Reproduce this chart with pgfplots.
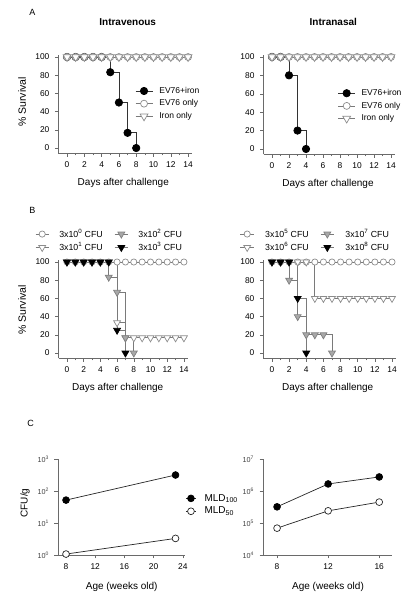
\documentclass[border=0pt]{standalone}
\usepackage{fontspec}
\setmainfont{Liberation Sans}
\usepackage{pgfplots}
\pgfplotsset{compat=1.18}

\definecolor{lg}{HTML}{8C8C8C}
\definecolor{lnc}{HTML}{7A7A7A}
\definecolor{gf}{HTML}{A8A8A8}
\definecolor{axc}{HTML}{6A6A6A}

\pgfplotsset{
  base/.style={scale only axis, axis lines*=left,
    axis line style={-, axc, line width=0.6pt},
    tick align=outside, major tick length=3.5pt, minor tick length=2pt,
    tick style={axc, line width=0.5pt},
    /pgf/number format/assume math mode=true,
    ticklabel style={font=\fontsize{8.4}{9}\selectfont},
    yticklabel style={xshift=-2pt}, xticklabel style={yshift=-1.5pt},
    clip=false, legend cell align=left, legend image post style={sharp plot}},
  surv/.style={base, xmin=-1, xmax=14.5, ymin=-6, ymax=102,
    xtick={0,2,...,14}, ytick={0,20,...,100}, minor x tick num=1},
  alegend/.style={legend style={draw=none, fill=none, inner sep=0pt, outer sep=0pt,
      row sep=2pt, font=\fontsize{8.5}{10}\selectfont, nodes={inner sep=1.5pt}},
    legend image code/.code={\draw[sharp plot] (0pt,0pt) -- (17pt,0pt);
      \draw[sharp plot] plot coordinates {(8.5pt,0pt)};}},
  blegend/.style={legend columns=2, transpose legend,
    legend style={draw=none, fill=none, inner sep=0pt, outer sep=0pt,
      row sep=0.8pt, font=\fontsize{8.8}{10}\selectfont, nodes={inner sep=1.5pt},
      /tikz/every even column/.append style={column sep=10pt}},
    legend image code/.code={\draw[sharp plot] (0pt,0pt) -- (13.4pt,0pt);
      \draw[sharp plot] plot coordinates {(6.7pt,0pt)};}},
  pblack/.style={const plot, line width=0.7pt, color=black!80, mark=*, mark size=3.7pt, mark options={solid, fill=black, draw=black}},
  pcirc/.style={const plot, line width=0.7pt, color=lnc, mark=*, mark size=3.5pt, mark options={solid, fill=white, draw=lg}},
  ptri/.style={const plot, line width=0.7pt, color=lnc, mark=triangle*, mark size=4.5pt, mark options={solid, fill=white, draw=lg, rotate=180}},
  bcirc/.style={const plot, line width=0.7pt, color=lnc, mark=*, mark size=3.1pt, mark options={solid, fill=white, draw=lg}},
  btri/.style={const plot, line width=0.7pt, color=lnc, mark=triangle*, mark size=4pt, mark options={solid, fill=white, draw=lg, rotate=180}},
  bgtri/.style={const plot, line width=0.7pt, color=lnc, mark=triangle*, mark size=4pt, mark options={solid, fill=gf, draw=gray, rotate=180}},
  bbtri/.style={const plot, line width=0.7pt, color=lnc, mark=triangle*, mark size=4pt, mark options={solid, fill=black, draw=black, rotate=180}},
  cfill/.style={color=black!85, line width=0.7pt, mark=*, mark size=3.4pt, mark options={solid, fill=black, draw=black}},
  copen/.style={color=black!85, line width=0.7pt, mark=*, mark size=3.4pt, mark options={solid, fill=white, draw=black!85}},
  cax/.style={base, yminorticks=false, xminorticks=false,
    yticklabel style={font=\fontsize{7.2}{8}\selectfont, text=black!75}},
}

\begin{document}
\begin{tikzpicture}
\useasboundingbox (0pt,0pt) rectangle (413pt,600pt);

% ---------------- Panel A left ----------------
\begin{axis}[surv, alegend, at={(58.4pt,446.5pt)}, anchor=south west,
  width=134pt, height=98.3pt,
  legend style={at={(0.573,0.69)}, anchor=north west}]
\addplot[pblack] coordinates {(0,100)(1,100)(2,100)(3,100)(4,100)(5,83.3)(6,50)(7,16.7)(8,0)};
\addlegendentry{\hspace{5pt}EV76+iron}
\addplot[pcirc] coordinates {(0,100)(1,100)(2,100)(3,100)(4,100)(5,100)(6,100)(7,100)(8,100)(9,100)(10,100)(11,100)(12,100)(13,100)(14,100)};
\addlegendentry{\hspace{5pt}EV76 only}
\addplot[ptri] coordinates {(0,100)(1,100)(2,100)(3,100)(4,100)(5,100)(6,100)(7,100)(8,100)(9,100)(10,100)(11,100)(12,100)(13,100)(14,100)};
\addlegendentry{\hspace{5pt}Iron only}
\end{axis}

% ---------------- Panel A right ----------------
\begin{axis}[surv, alegend, at={(263.5pt,445.5pt)}, anchor=south west,
  width=131.8pt, height=99.4pt,
  legend style={at={(0.564,0.67)}, anchor=north west}]
\addplot[pblack] coordinates {(0,100)(1,100)(2,80)(3,20)(4,0)};
\addlegendentry{\hspace{4.5pt}EV76+iron}
\addplot[pcirc] coordinates {(0,100)(1,100)(2,100)(3,100)(4,100)(5,100)(6,100)(7,100)(8,100)(9,100)(10,100)(11,100)(12,100)(13,100)(14,100)};
\addlegendentry{\hspace{4.5pt}EV76 only}
\addplot[ptri] coordinates {(0,100)(1,100)(2,100)(3,100)(4,100)(5,100)(6,100)(7,100)(8,100)(9,100)(10,100)(11,100)(12,100)(13,100)(14,100)};
\addlegendentry{\hspace{4.5pt}Iron only}
\end{axis}

% ---------------- Panel B left ----------------
\begin{axis}[surv, blegend, at={(58.6pt,241.5pt)}, anchor=south west,
  width=129.5pt, height=98.3pt,
  legend style={at={(-0.181,1.33)}, anchor=north west}]
\addplot[bcirc] coordinates {(0,100)(1,100)(2,100)(3,100)(4,100)(5,100)(6,100)(7,100)(8,100)(9,100)(10,100)(11,100)(12,100)(13,100)(14,100)};
\addlegendentry{\hspace{8.5pt}3x10\textsuperscript{0} CFU}
\addplot[btri] coordinates {(0,100)(1,100)(2,100)(3,100)(4,100)(5,100)(6,33.3)(7,16.7)(8,16.7)(9,16.7)(10,16.7)(11,16.7)(12,16.7)(13,16.7)(14,16.7)};
\addlegendentry{\hspace{8.5pt}3x10\textsuperscript{1} CFU}
\addplot[bgtri] coordinates {(0,100)(1,100)(2,100)(3,100)(4,100)(5,83.3)(6,66.7)(7,16.7)(8,0)};
\addlegendentry{\hspace{8.5pt}3x10\textsuperscript{2} CFU}
\addplot[bbtri] coordinates {(0,100)(1,100)(2,100)(3,100)(4,100)(5,100)(6,25)(7,0)};
\addlegendentry{\hspace{8.5pt}3x10\textsuperscript{3} CFU}
\end{axis}

% ---------------- Panel B right ----------------
\begin{axis}[surv, blegend, at={(263.4pt,241.5pt)}, anchor=south west,
  width=132.9pt, height=98.3pt,
  legend style={at={(-0.175,1.33)}, anchor=north west}]
\addplot[bcirc] coordinates {(0,100)(1,100)(2,100)(3,100)(4,100)(5,100)(6,100)(7,100)(8,100)(9,100)(10,100)(11,100)(12,100)(13,100)(14,100)};
\addlegendentry{\hspace{9.5pt}3x10\textsuperscript{5} CFU}
\addplot[btri] coordinates {(0,100)(1,100)(2,100)(3,100)(4,100)(5,60)(6,60)(7,60)(8,60)(9,60)(10,60)(11,60)(12,60)(13,60)(14,60)};
\addlegendentry{\hspace{9.5pt}3x10\textsuperscript{6} CFU}
\addplot[bgtri] coordinates {(0,100)(1,100)(2,80)(3,40)(4,20)(5,20)(6,20)(7,0)};
\addlegendentry{\hspace{9.5pt}3x10\textsuperscript{7} CFU}
\addplot[bbtri] coordinates {(0,100)(1,100)(2,100)(3,60)(4,0)};
\addlegendentry{\hspace{9.5pt}3x10\textsuperscript{8} CFU}
\end{axis}

% ---------------- Panel C left ----------------
\begin{semilogyaxis}[cax, at={(58pt,45pt)}, anchor=south west, width=127pt, height=96pt,
  xmin=6.9, xmax=24.3, ymin=1, ymax=1000,
  xtick={8,12,16,20,24}, ytick={1,10,100,1000},
  yticklabels={10\textsuperscript{0},10\textsuperscript{1},10\textsuperscript{2},10\textsuperscript{3}},
  legend style={at={(1.0016,0.651)}, anchor=north west, draw=none, fill=none,
    inner sep=0pt, row sep=1.5pt, font=\fontsize{10}{12}\selectfont, nodes={inner sep=1.5pt}},
  legend image code/.code={\draw[sharp plot] (0pt,0pt) -- (10.4pt,0pt);
    \draw[sharp plot] plot coordinates {(5.2pt,0pt)};}]
\addplot[cfill] coordinates {(8,52)(23,316)};
\addlegendentry{\hspace{6.5pt}MLD\textsubscript{100}}
\addplot[copen] coordinates {(8,1.07)(23,3.3)};
\addlegendentry{\hspace{6.5pt}MLD\textsubscript{50}}
\end{semilogyaxis}

% ---------------- Panel C right ----------------
\begin{semilogyaxis}[cax, at={(263pt,45pt)}, anchor=south west, width=129pt, height=96pt,
  xmin=6.9, xmax=17.0, ymin=1e4, ymax=1e7,
  xtick={8,12,16}, ytick={1e4,1e5,1e6,1e7},
  yticklabels={10\textsuperscript{4},10\textsuperscript{5},10\textsuperscript{6},10\textsuperscript{7}}]
\addplot[cfill] coordinates {(8,3.2e5)(12,1.66e6)(16,2.75e6)};
\addplot[copen] coordinates {(8,6.9e4)(12,2.4e5)(16,4.5e5)};
\end{semilogyaxis}

% ---------------- Text ----------------
\node[font=\fontsize{9}{10}\selectfont] at (32.5pt,588pt) {A};
\node[font=\fontsize{9}{10}\selectfont] at (32.5pt,389.3pt) {B};
\node[font=\fontsize{9}{10}\selectfont] at (30.7pt,176.7pt) {C};
\node[font=\bfseries\fontsize{10}{12}\selectfont] at (127.7pt,578pt) {Intravenous};
\node[font=\bfseries\fontsize{10}{12}\selectfont] at (333.3pt,578pt) {Intranasal};
\node[font=\fontsize{10.5}{12}\selectfont, rotate=90] at (22pt,498pt) {\% Survival};
\node[font=\fontsize{10.5}{12}\selectfont, rotate=90] at (22pt,290pt) {\% Survival};
\node[font=\fontsize{10}{12}\selectfont, rotate=90] at (25pt,97pt) {CFU/g};
\node[font=\fontsize{10}{12}\selectfont] at (123.3pt,416.7pt) {Days after challenge};
\node[font=\fontsize{10}{12}\selectfont] at (328pt,416pt) {Days after challenge};
\node[font=\fontsize{10}{12}\selectfont] at (117.7pt,212.3pt) {Days after challenge};
\node[font=\fontsize{10}{12}\selectfont] at (327.7pt,212.3pt) {Days after challenge};
\node[font=\fontsize{10}{12}\selectfont] at (121.7pt,13.3pt) {Age (weeks old)};
\node[font=\fontsize{10}{12}\selectfont] at (328pt,13pt) {Age (weeks old)};
\end{tikzpicture}
\end{document}
